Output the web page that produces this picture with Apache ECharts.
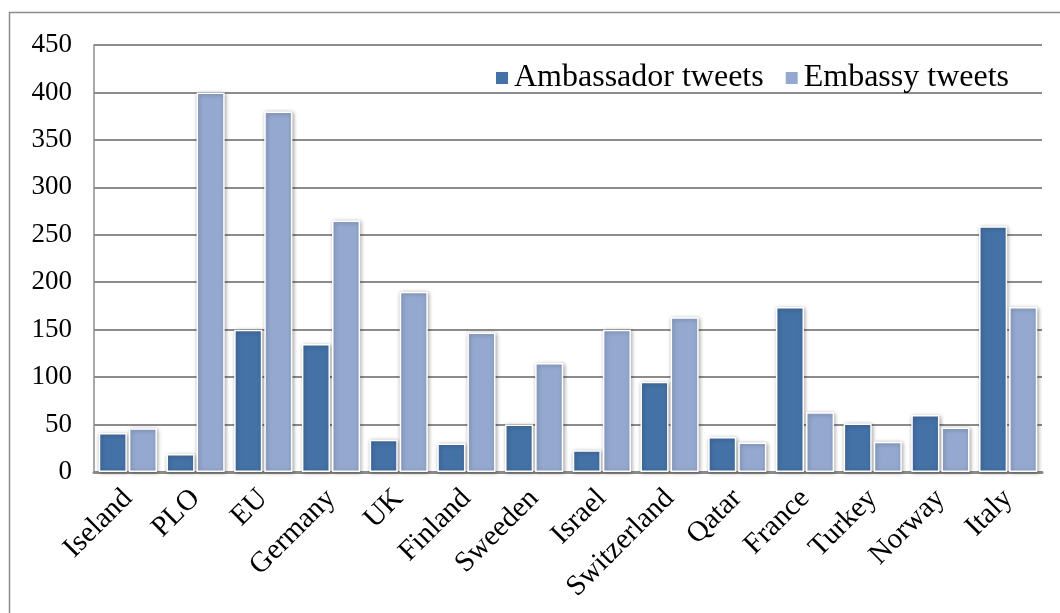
<!DOCTYPE html>
<html>
<head>
<meta charset="utf-8">
<script src="https://cdn.jsdelivr.net/npm/echarts@6/dist/echarts.min.js"></script>
<style>
    html, body { margin: 0; padding: 0; background: #fff; }
    #chartmain { width: 1060px; height: 613px; }
</style>
</head>
<body>
<div id="chartmain"></div>
<script>
var countries = ['Iseland', 'PLO', 'EU', 'Germany', 'UK', 'Finland', 'Sweeden', 'Israel',
    'Switzerland', 'Qatar', 'France', 'Turkey', 'Norway', 'Italy'];
var ambassadorTweets = [41, 19, 150, 135, 34, 30, 50, 23, 95, 37, 174, 51, 60, 259];
var embassyTweets = [46, 400, 380, 265, 190, 147, 115, 150, 163, 31, 63, 32, 47, 174];
var yTicks = [0, 50, 100, 150, 200, 250, 300, 350, 400, 450];

var fontName = '"Liberation Serif", "DejaVu Serif", serif';

function barStyle(color) {
    return {
        color: color,
        borderColor: '#ffffff',
        borderWidth: 1.5,
        shadowColor: 'rgba(0,0,0,0.35)',
        shadowBlur: 4,
        shadowOffsetX: 1,
        shadowOffsetY: 1
    };
}

var option = {
    animation: false,
    textStyle: { fontFamily: fontName },
    graphic: [{
        type: 'rect',
        shape: { x: 9.5, y: 12.5, width: 1060, height: 620 },
        style: { fill: 'none', stroke: '#8c8c8c', lineWidth: 1.5 },
        z: -1
    }],
    legend: {
        right: 46,
        top: 57,
        icon: 'rect',
        itemWidth: 14,
        itemHeight: 14,
        itemGap: 20,
        textStyle: { fontFamily: fontName, fontSize: 32, color: '#000' },
        data: ['Ambassador tweets', 'Embassy tweets']
    },
    grid: { left: 94, right: 18, top: 45, bottom: 141 },
    xAxis: {
        type: 'category',
        data: countries,
        axisLine: { lineStyle: { color: '#8c8c8c', width: 3 } },
        axisTick: { show: false },
        axisLabel: {
            rotate: 45,
            interval: 0,
            margin: 22,
            fontFamily: fontName,
            fontSize: 29,
            color: '#000'
        }
    },
    yAxis: {
        type: 'value',
        min: yTicks[0],
        max: yTicks[yTicks.length - 1],
        interval: 50,
        axisLine: { show: true, lineStyle: { color: '#8c8c8c', width: 1.5 } },
        axisTick: { show: false },
        splitLine: { lineStyle: { color: '#8c8c8c', width: 2 } },
        axisLabel: {
            margin: 22,
            fontFamily: fontName,
            fontSize: 27,
            color: '#000'
        }
    },
    series: [{
        name: 'Ambassador tweets',
        type: 'bar',
        data: ambassadorTweets,
        barGap: '7%',
        barCategoryGap: '14%',
        itemStyle: barStyle('#4472a7')
    }, {
        name: 'Embassy tweets',
        type: 'bar',
        data: embassyTweets,
        itemStyle: barStyle('#95a9d0')
    }]
};

var myChart = echarts.init(document.getElementById('chartmain'));
myChart.setOption(option);
</script>
</body>
</html>
